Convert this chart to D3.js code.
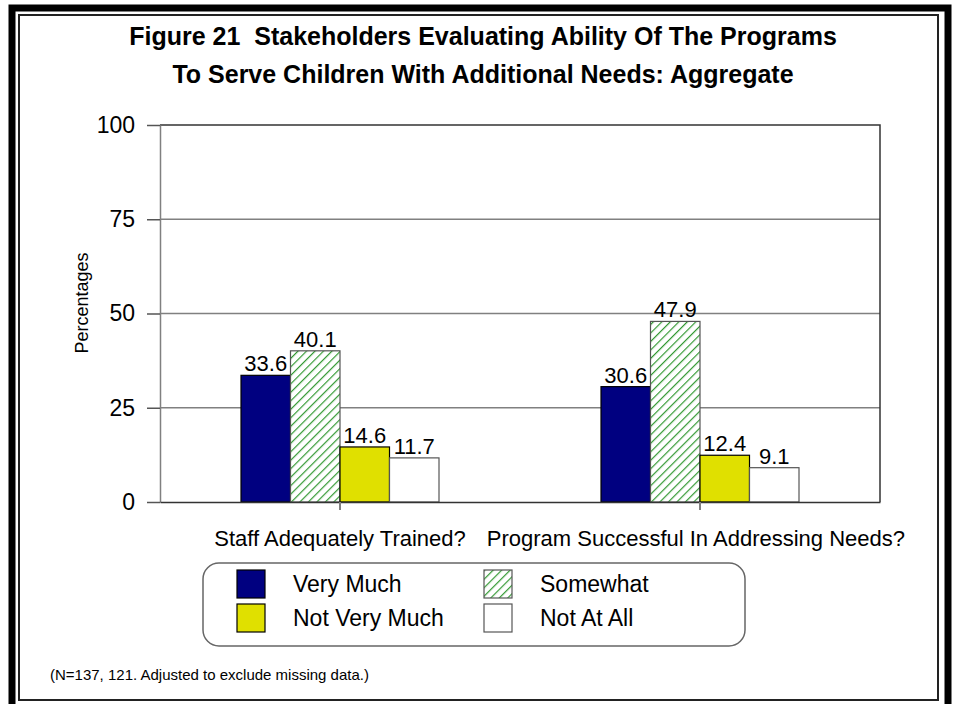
<!DOCTYPE html>
<html>
<head>
<meta charset="utf-8">
<script src="https://cdn.jsdelivr.net/npm/d3@7"></script>
<style>
  body { margin: 0; background: #fff; }
  text { font-family: Arial, "Liberation Sans", sans-serif; }
</style>
</head>
<body>
<div class="main"></div>
<script>
const WIDTH = 953;
const HEIGHT = 704;

var categories = ["Staff Adequately Trained?", "Program Successful In Addressing Needs?"];
var seriesNames = ["Very Much", "Somewhat", "Not Very Much", "Not At All"];
var veryMuch = [33.6, 30.6];
var somewhat = [40.1, 47.9];
var notVeryMuch = [14.6, 12.4];
var notAtAll = [11.7, 9.1];
var yTicks = [0, 25, 50, 75, 100];
var titleLines = ["Figure 21  Stakeholders Evaluating Ability Of The Programs",
                  "To Serve Children With Additional Needs: Aggregate"];
var footnote = "(N=137, 121. Adjusted to exclude missing data.)";

var seriesValues = [veryMuch, somewhat, notVeryMuch, notAtAll];
var fills = ["#000080", "url(#hatch)", "#e0e000", "#ffffff"];

var svg = d3.select(".main")
    .append("svg")
        .attr("width", WIDTH)
        .attr("height", HEIGHT);

// hatch pattern for "Somewhat"
var defs = svg.append("defs");
var pat = defs.append("pattern")
    .attr("id", "hatch")
    .attr("patternUnits", "userSpaceOnUse")
    .attr("width", 6)
    .attr("height", 6)
    .attr("patternTransform", "rotate(45)");
pat.append("rect").attr("width", 6).attr("height", 6).attr("fill", "#fff");
pat.append("line")
    .attr("x1", 0).attr("y1", 0).attr("x2", 0).attr("y2", 6)
    .attr("stroke", "#339933").attr("stroke-width", 2.4);

// frame
svg.append("rect")
    .attr("x", 12).attr("y", 8).attr("width", 936).attr("height", 700)
    .attr("fill", "none").attr("stroke", "#000").attr("stroke-width", 7);
svg.append("rect")
    .attr("x", 19).attr("y", 15).attr("width", 919).attr("height", 685)
    .attr("fill", "none").attr("stroke", "#222").attr("stroke-width", 2);

// title
svg.selectAll(".title")
    .data(titleLines)
    .join("text")
    .attr("class", "title")
    .attr("x", 483)
    .attr("y", (d, i) => 45 + i * 38)
    .attr("text-anchor", "middle")
    .attr("font-size", 25)
    .attr("font-weight", "bold")
    .style("white-space", "pre")
    .text(d => d);

var margin = {left: 160, right: 880, top: 125, bottom: 502};

var y = d3.scaleLinear()
    .domain([0, 100])
    .range([margin.bottom, margin.top]);

var x0 = d3.scaleBand()
    .domain(categories)
    .range([margin.left, margin.right]);

var x1 = d3.scaleBand()
    .domain(seriesNames)
    .range([0, 198]);

// gridlines
svg.append("g")
    .selectAll("line")
    .data(yTicks.filter(d => d > 0 && d < 100))
    .join("line")
    .attr("x1", margin.left).attr("x2", margin.right)
    .attr("y1", d => y(d)).attr("y2", d => y(d))
    .attr("stroke", "#808080").attr("stroke-width", 1.5);

// plot border top/right
svg.append("path")
    .attr("d", `M${margin.left},${y(100)}H${margin.right}V${y(0)}`)
    .attr("fill", "none").attr("stroke", "#333").attr("stroke-width", 1.5);

// bars
var groups = svg.append("g")
    .selectAll("g")
    .data(categories)
    .join("g")
    .attr("transform", c => `translate(${x0(c) + x0.bandwidth() / 2 - 99},0)`);

groups.selectAll("rect")
    .data((c, ci) => seriesNames.map((s, si) => ({s: s, si: si, v: seriesValues[si][ci]})))
    .join("rect")
    .attr("x", d => x1(d.s))
    .attr("y", d => y(d.v))
    .attr("width", x1.bandwidth())
    .attr("height", d => y(0) - y(d.v))
    .attr("fill", d => fills[d.si])
    .attr("stroke", d => d.si === 3 || d.si === 1 ? "#555" : "#000")
    .attr("stroke-width", 1.2);

groups.selectAll("text")
    .data((c, ci) => seriesNames.map((s, si) => ({s: s, si: si, v: seriesValues[si][ci]})))
    .join("text")
    .attr("x", d => x1(d.s) + x1.bandwidth() / 2)
    .attr("y", d => y(d.v) - 4)
    .attr("text-anchor", "middle")
    .attr("font-size", 22)
    .text(d => d.v.toFixed(1));

// y axis
var yAxis = svg.append("g")
    .attr("transform", `translate(${margin.left},0)`)
    .call(d3.axisLeft(y).tickValues(yTicks).tickSize(13).tickPadding(12).tickSizeOuter(0));
yAxis.select(".domain").attr("stroke", "#808080").attr("stroke-width", 1.5);
yAxis.selectAll(".tick line").attr("stroke", "#555").attr("stroke-width", 1.5);
yAxis.selectAll(".tick text")
    .attr("font-size", 23)
    .attr("font-family", "Arial, 'Liberation Sans', sans-serif")
    .attr("fill", "#000");

// x axis
var xAxis = svg.append("g")
    .attr("transform", `translate(0,${margin.bottom})`)
    .call(d3.axisBottom(x0).tickSize(0).tickSizeOuter(0).tickPadding(0));
xAxis.select(".domain").attr("stroke", "#333").attr("stroke-width", 1.5);
xAxis.selectAll(".tick text").remove();
xAxis.selectAll(".tick").append("line")
    .attr("y1", 0).attr("y2", 8)
    .attr("stroke", "#808080").attr("stroke-width", 2);

svg.append("g")
    .selectAll("text")
    .data(categories)
    .join("text")
    .attr("x", c => x0(c) + x0.bandwidth() / 2)
    .attr("y", 546)
    .attr("text-anchor", "middle")
    .attr("font-size", 22)
    .text(c => c)
    .each(function(c) {
        var w = this.getComputedTextLength();
        var cx = x0(c) + x0.bandwidth() / 2;
        if (cx + w / 2 > 905) d3.select(this).attr("x", 905 - w / 2);
    });

// y title
svg.append("text")
    .attr("transform", "translate(88,303) rotate(-90)")
    .attr("text-anchor", "middle")
    .attr("font-size", 18)
    .text("Percentages");

// legend
var legend = svg.append("g");
legend.append("rect")
    .attr("x", 203).attr("y", 563).attr("width", 542).attr("height", 83)
    .attr("rx", 16).attr("ry", 16)
    .attr("fill", "#fff").attr("stroke", "#666").attr("stroke-width", 1.5);

var legendItems = legend.selectAll(".item")
    .data(seriesNames)
    .join("g")
    .attr("class", "item")
    .attr("transform", (d, i) => `translate(${i % 2 === 0 ? 237 : 484},${i < 2 ? 570 : 604})`);

legendItems.append("rect")
    .attr("width", 28).attr("height", 28)
    .attr("fill", (d, i) => fills[i])
    .attr("stroke", (d, i) => i === 3 || i === 1 ? "#555" : "#000")
    .attr("stroke-width", 1.2);

legendItems.append("text")
    .attr("x", 56).attr("y", 22)
    .attr("font-size", 23)
    .text(d => d);

// footnote
svg.append("text")
    .attr("x", 50).attr("y", 680)
    .attr("font-size", 15)
    .text(footnote);
</script>
</body>
</html>
